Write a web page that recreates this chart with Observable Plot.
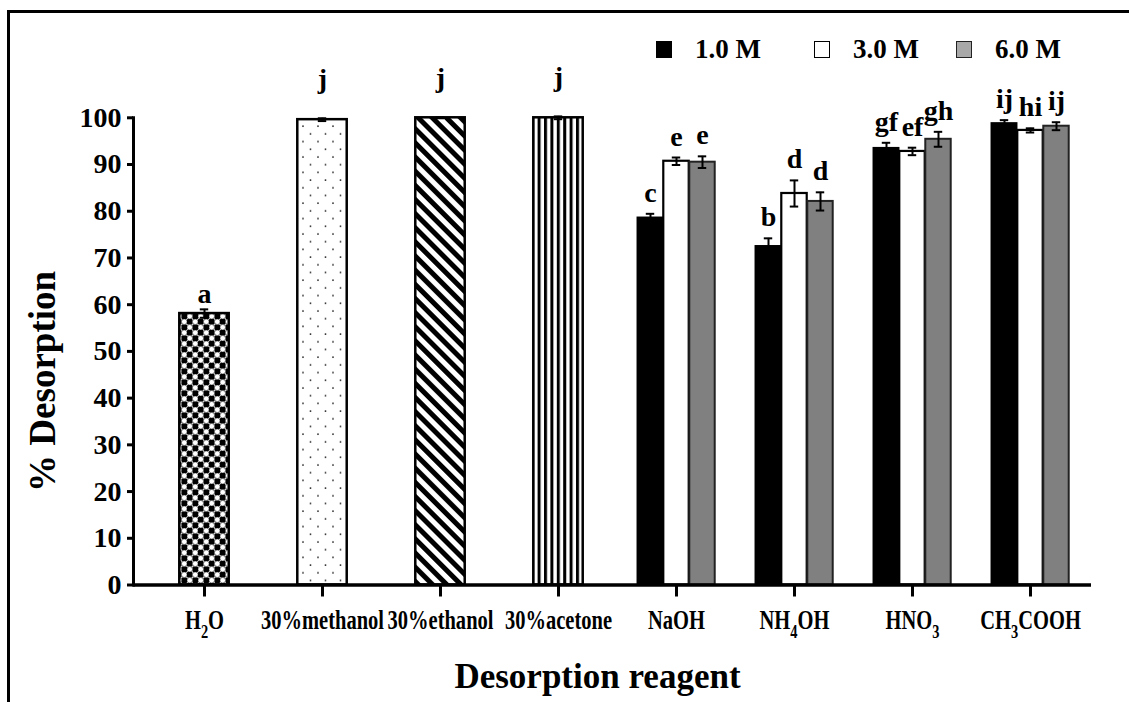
<!DOCTYPE html>
<html><head><meta charset="utf-8">
<script src="https://cdn.jsdelivr.net/npm/d3@7"></script>
<script src="https://cdn.jsdelivr.net/npm/@observablehq/plot@0.6"></script>
<style>
html,body{margin:0;padding:0;background:#fff;overflow:hidden}
#wrap{position:relative;width:1129px;height:702px;overflow:hidden}
#border{position:absolute;left:7px;top:10px;width:1200px;height:800px;border-top:3px solid #000;border-left:3px solid #000;box-sizing:border-box}
#chart{position:absolute;left:0;top:0}
.lg{position:absolute;top:36px;display:flex;align-items:center;font:bold 27px "Liberation Serif","Times New Roman",serif;color:#000;line-height:1}
.sw{width:16px;height:17px;box-sizing:border-box;margin-right:23px}
#defs{position:absolute;width:0;height:0}
</style></head>
<body>
<svg id="defs" width="0" height="0">
<defs>
<pattern id="pat0" patternUnits="userSpaceOnUse" width="11" height="11">
<rect width="11" height="11" fill="white"/>
<circle cx="2.75" cy="2.75" r="3.3" fill="black"/>
<circle cx="8.25" cy="8.25" r="3.3" fill="black"/>
<circle cx="8.25" cy="2.75" r="2.8" fill="white" stroke="#666" stroke-width="0.9"/>
<circle cx="2.75" cy="8.25" r="2.8" fill="white" stroke="#666" stroke-width="0.9"/>
</pattern>
<pattern id="pat1" patternUnits="userSpaceOnUse" width="15" height="15.4">
<rect width="15" height="15.4" fill="white"/>
<circle cx="3" cy="3" r="0.95" fill="#222"/>
<circle cx="10.5" cy="10.7" r="0.95" fill="#222"/>
</pattern>
<pattern id="pat2" patternUnits="userSpaceOnUse" width="10" height="10" patternTransform="rotate(-45)">
<rect width="10" height="10" fill="white"/>
<rect width="5" height="10" fill="black"/>
</pattern>
<pattern id="pat3" patternUnits="userSpaceOnUse" width="6.4" height="10">
<rect width="6.4" height="10" fill="white"/>
<rect width="3" height="10" fill="black"/>
</pattern>
</defs>
</svg>
<div id="wrap">
<div id="border"></div>
<div id="chart"></div>
<div class="lg" style="left:656px"><div class="sw" style="background:#000"></div><span>1.0 M</span></div>
<div class="lg" style="left:814px"><div class="sw" style="background:#fff;border:1.5px solid #000"></div><span>3.0 M</span></div>
<div class="lg" style="left:956px"><div class="sw" style="background:#a8a8a8;border:1.5px solid #222"></div><span>6.0 M</span></div>
</div>
<script>
const categories = ["H2O","30%methanol","30%ethanol","30%acetone","NaOH","NH4OH","HNO3","CH3COOH"];
const solvents = ["H2O","30%methanol","30%ethanol","30%acetone"];
const solventValues = [58.1, 99.6, 100, 100];
const solventErrors = [0.9, 0.3, 0.1, 0.3];
const solventLetters = ["a","j","j","j"];
const reagents = ["NaOH","NH4OH","HNO3","CH3COOH"];
const concentrations = ["1.0 M","3.0 M","6.0 M"];
const values1M = [78.6, 72.5, 93.5, 98.8];
const values3M = [90.7, 83.8, 92.8, 97.3];
const values6M = [90.5, 82.1, 95.4, 98.2];
const errors1M = [0.85, 1.7, 1.15, 0.7];
const errors3M = [0.8, 2.8, 0.8, 0.45];
const errors6M = [1.25, 1.95, 1.6, 0.85];
const letters1M = ["c","b","gf","ij"];
const letters3M = ["e","d","ef","hi"];
const letters6M = ["e","d","gh","ij"];
const yTicks = [0,10,20,30,40,50,60,70,80,90,100];

const solventRows = solvents.map((c,i)=>({cat:c, value:solventValues[i], err:solventErrors[i], letter:solventLetters[i]}));
const seriesVals = [values1M, values3M, values6M];
const seriesErrs = [errors1M, errors3M, errors6M];
const seriesLets = [letters1M, letters3M, letters6M];
const groupRows = concentrations.map((conc,j)=>reagents.map((r,i)=>({cat:r, conc, value:seriesVals[j][i], err:seriesErrs[j][i], letter:seriesLets[j][i]})));

const step = 958/8.08;
const singleInset = (step-50)/2;
const groupInset = (step-26)/2;
const capInset = (step-9)/2;
const groupDx = [-26, 0, 26];
const groupStyle = [
  {fill:"black", stroke:"black", strokeWidth:1.5},
  {fill:"white", stroke:"black", strokeWidth:2.2},
  {fill:"#808080", stroke:"#222", strokeWidth:2}
];

const marks = [];
solventRows.forEach((d,i)=>{
  marks.push(Plot.barY([d], {x:"cat", y:"value", fill:`url(#pat${i})`, stroke:"black", strokeWidth:2.5, insetLeft:singleInset, insetRight:singleInset}));
});
groupRows.forEach((rows,j)=>{
  marks.push(Plot.barY(rows, {x:"cat", y:"value", ...groupStyle[j], insetLeft:groupInset, insetRight:groupInset, dx:groupDx[j]}));
});
function errMarks(rows, dx, dy){
  return [
    Plot.ruleX(rows, {x:"cat", y1:d=>d.value-d.err, y2:d=>d.value+d.err, dx, stroke:"black", strokeWidth:2}),
    Plot.tickY(rows, {x:"cat", y:d=>d.value+d.err, dx, insetLeft:capInset, insetRight:capInset, stroke:"black", strokeWidth:2}),
    Plot.tickY(rows, {x:"cat", y:d=>d.value-d.err, dx, insetLeft:capInset, insetRight:capInset, stroke:"black", strokeWidth:2}),
    Plot.text(rows, {x:"cat", y:d=>d.value+d.err, text:"letter", dx, dy, lineAnchor:"bottom", fontSize:28, fontWeight:"bold", fill:"black"})
  ];
}
marks.push(...errMarks(solventRows.slice(0,1), 0, -6));
marks.push(...errMarks(solventRows.slice(1), 0, -30));
groupRows.forEach((rows,j)=>marks.push(...errMarks(rows, groupDx[j], -12)));

marks.push(
  Plot.ruleY([0], {stroke:"black", strokeWidth:3.5}),
  Plot.frame({anchor:"left", stroke:"black", strokeWidth:3}),
  Plot.axisY({ticks:yTicks, tickSize:6, tickPadding:6, strokeWidth:3, fontSize:28, fontWeight:"bold", label:null}),
  Plot.axisX({tickSize:12, tickPadding:13, strokeWidth:3, fontSize:27, fontWeight:"bold", label:null}),
  Plot.text(["% Desorption"], {frameAnchor:"left", textAnchor:"middle", lineAnchor:"middle", rotate:-90, dx:-90, dy:30, fontSize:37, fontWeight:"bold", fill:"black"}),
  Plot.text(["Desorption reagent"], {frameAnchor:"bottom", textAnchor:"middle", lineAnchor:"middle", dx:-15, dy:92, fontSize:35, fontWeight:"bold", fill:"black"})
);

const chart = Plot.plot({
  width:1129, height:702,
  marginTop:117.3, marginBottom:117.5, marginLeft:133, marginRight:38,
  x:{domain:categories, range:[138,1096], paddingInner:0, paddingOuter:0.04, axis:null},
  y:{domain:[0,100], axis:null},
  style:{fontFamily:'"Liberation Serif","Times New Roman",serif', fontWeight:"bold", fontSize:"27px", color:"black", background:"transparent", overflow:"visible"},
  marks
});
document.getElementById("chart").appendChild(chart);

// condensed tick labels and subscripts in chemical formulas
d3.select(chart).selectAll('g[aria-label="x-axis tick label"] text').each(function(){
  const tr = this.getAttribute("transform") || "";
  this.setAttribute("transform", tr + " scale(0.76,1)");
  const t = this.textContent;
  if (t.includes("%")) return;
  const parts = t.split(/(\d)/).filter(s=>s.length);
  this.textContent = "";
  let shifted = false;
  for (const p of parts) {
    const ts = d3.select(this).append("tspan").text(p);
    if (/^\d$/.test(p)) { ts.attr("dy", 9).attr("font-size", 19); shifted = true; }
    else if (shifted) { ts.attr("dy", -9); shifted = false; }
  }
});
</script>
</body></html>
